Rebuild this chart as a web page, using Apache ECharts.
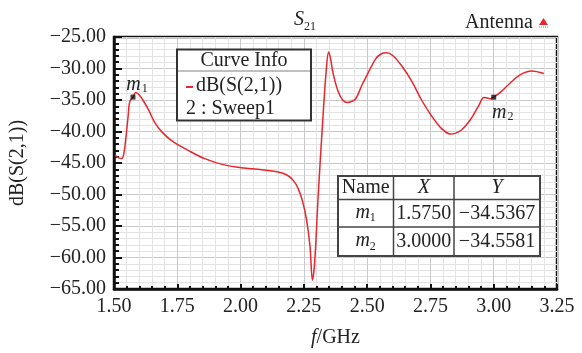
<!DOCTYPE html>
<html><head><meta charset="utf-8">
<script src="https://cdn.jsdelivr.net/npm/echarts@6/dist/echarts.min.js"></script>
<style>html,body{margin:0;padding:0;background:#fff}#c{width:582px;height:353px}</style>
</head><body><div id="c"></div>
<script>
// ---- data ----
const freqs = [1.504,1.515,1.530,1.539,1.547,1.556,1.562,1.575,1.586,1.600,1.614,1.637,1.660,1.690,1.729,1.793,1.858,1.936,2.014,2.092,2.144,2.183,2.209,2.228,2.245,2.261,2.274,2.284,2.293,2.306,2.325,2.338,2.348,2.356,2.364,2.384,2.403,2.423,2.440,2.455,2.481,2.494,2.533,2.555,2.576,2.600,2.637,2.676,2.715,2.754,2.793,2.829,2.871,2.910,2.942,2.961,2.975,2.988,3.000,3.026,3.065,3.104,3.150,3.198];
const s21 = [-43.8,-44.1,-44.3,-43.5,-41.0,-37.5,-35.3,-34.54,-33.8,-34.2,-35.0,-36.6,-38.5,-40.1,-41.5,-43.0,-44.3,-45.3,-45.8,-46.1,-46.4,-46.9,-47.8,-49.1,-51.1,-54.1,-58.1,-63.6,-60.6,-50.6,-38.0,-30.5,-27.4,-28.5,-30.5,-33.5,-35.0,-35.4,-35.2,-34.8,-32.5,-31.5,-28.5,-27.7,-27.5,-27.9,-29.6,-32.0,-35.0,-37.5,-39.5,-40.4,-39.8,-38.0,-35.8,-34.6,-34.7,-34.8,-34.56,-33.8,-32.3,-31.0,-30.4,-30.8];
const markerNames = ['1','2'];
const markerX = [1.5750, 3.0000];
const markerY = [-34.5367, -34.5581];
const xTickValues = [1.50,1.75,2.00,2.25,2.50,2.75,3.00,3.25];
const yTickValues = [-65,-60,-55,-50,-45,-40,-35,-30,-25];

// ---- chart ----
const FONT = '"Liberation Serif","Times New Roman",serif';
const TXT = '#222';
const minus = s => s.replace('-', '\u2212');
const chart = echarts.init(document.getElementById('c'));

const G = {left:108, right:557, top:37, bottom:303};

const tableRows = markerNames.map((n,i)=>({
  name:n, x: markerX[i].toFixed(4), y: minus(markerY[i].toFixed(4))
}));

function txt(x,y,text,extra){
  return Object.assign({type:'text', x:x, y:y, z:100, style:Object.assign({text:text, font:'20px '+FONT, fill:TXT, textAlign:'center', textVerticalAlign:'middle'}, extra||{})});
}

const graphics = [];
// title S21
graphics.push(txt(299,20,'S',{font:'italic 20px '+FONT}));
graphics.push(txt(310,27,'21',{font:'12px '+FONT}));
// Antenna legend
graphics.push(txt(465,23,'Antenna',{textAlign:'left'}));
graphics.push({type:'polygon', z:100, shape:{points:[[543.5,18],[548,25],[539,25]]}, style:{fill:'#e8262d'}});
graphics.push({type:'line', z:100, shape:{x1:539,y1:27,x2:548,y2:27}, style:{stroke:'#c66', lineWidth:1, lineDash:[1,1]}});
// Curve info box
graphics.push({type:'rect', z:99, shape:{x:177,y:49.5,width:134,height:71}, style:{fill:'#fff', stroke:'#333', lineWidth:2}});
graphics.push({type:'line', z:100, shape:{x1:178,y1:71,x2:310,y2:71}, style:{stroke:'#aaa', lineWidth:1.5}});
graphics.push(txt(244,60.5,'Curve Info'));
graphics.push({type:'line', z:100, shape:{x1:186,y1:87,x2:193,y2:87}, style:{stroke:'#e8262d', lineWidth:2}});
graphics.push(txt(196,86,'dB(S(2,1))',{textAlign:'left'}));
graphics.push(txt(186,109,'2 : Sweep1',{textAlign:'left'}));
// marker table
const tx=[338,393.5,454,540], ty=[176,199.5,227,256];
graphics.push({type:'rect', z:99, shape:{x:tx[0],y:ty[0],width:tx[3]-tx[0],height:ty[3]-ty[0]}, style:{fill:'#fff', stroke:'#444', lineWidth:2}});
[1,2].forEach(i=>{
  graphics.push({type:'line', z:100, shape:{x1:tx[i],y1:ty[0],x2:tx[i],y2:ty[3]}, style:{stroke:'#444', lineWidth:1.5}});
  graphics.push({type:'line', z:100, shape:{x1:tx[0],y1:ty[i],x2:tx[3],y2:ty[i]}, style:{stroke:'#444', lineWidth:1.5}});
});
const cx=[(tx[0]+tx[1])/2,(tx[1]+tx[2])/2,(tx[2]+tx[3])/2];
graphics.push(txt(cx[0],188,'Name'));
graphics.push(txt(cx[1],188,'X',{font:'italic 20px '+FONT}));
graphics.push(txt(cx[2],188,'Y',{font:'italic 20px '+FONT}));
tableRows.forEach((r,k)=>{
  const yc = (ty[k+1]+ty[k+2])/2;
  graphics.push(txt(cx[0]-3,yc-1,'m',{font:'italic 20px '+FONT}));
  graphics.push(txt(cx[0]+7,yc+5,r.name,{font:'12px '+FONT}));
  graphics.push(txt(cx[1],yc,r.x));
  graphics.push(txt(cx[2],yc,r.y));
});

const axisCommon = {
  axisLine:{show:true, lineStyle:{color:'#111', width:2.5}},
  axisLabel:{color:TXT, fontFamily:FONT, fontSize:20, margin:8},
  splitLine:{show:true, lineStyle:{color:'#c9c9c9', width:1}},
  minorTick:{show:true, splitNumber:5, length:4, lineStyle:{color:'#111', width:2}},
  minorSplitLine:{show:true, lineStyle:{color:'#e3e3e3', width:1}},
  nameTextStyle:{color:TXT, fontFamily:FONT, fontSize:20}
};

chart.setOption({
  animation:false,
  backgroundColor:'#fff',
  grid:{left:G.left, top:G.top, width:G.right-G.left, height:G.bottom-G.top, show:true, borderColor:'#111', borderWidth:2.5, containLabel:false},
  xAxis:Object.assign({}, axisCommon, {
    type:'value', min:xTickValues[0], max:xTickValues[xTickValues.length-1], interval:0.25,
    axisTick:{show:true, inside:true, length:5, lineStyle:{color:'#111', width:2}},
    minorTick:{show:true, splitNumber:5, length:3, lineStyle:{color:'#111', width:2}},
    axisLabel:Object.assign({}, axisCommon.axisLabel, {formatter:v=>v.toFixed(2)}),
    name:'{i|f}/GHz', nameLocation:'middle', nameGap:39,
    nameTextStyle:{color:TXT, fontFamily:FONT, fontSize:20, rich:{i:{fontStyle:'italic', fontFamily:FONT, fontSize:20, color:TXT}}}
  }),
  yAxis:Object.assign({}, axisCommon, {
    type:'value', min:yTickValues[0], max:yTickValues[yTickValues.length-1], interval:5,
    axisTick:{show:true, inside:true, length:8, lineStyle:{color:'#111', width:2}},
    minorTick:{show:true, splitNumber:5, length:5, lineStyle:{color:'#111', width:2}},
    axisLabel:Object.assign({}, axisCommon.axisLabel, {formatter:v=>minus(v.toFixed(2))}),
    name:'dB(S(2,1))', nameLocation:'middle', nameGap:86
  }),
  series:[
    {type:'line', data:freqs.map((f,i)=>[f,s21[i]]), smooth:0.35, showSymbol:false, symbol:'none',
     lineStyle:{color:'#e8262d', width:1.5}, z:3, silent:true},
    {type:'scatter', data:markerX.map((x,i)=>[x,markerY[i],markerNames[i]]), symbol:'rect', symbolSize:5,
     itemStyle:{color:'#111'}, z:5, silent:true,
     label:{show:true, color:TXT, opacity:1, textBorderWidth:0, formatter:p=>'{m|m}{s|'+p.data[2]+'}',
       position:'top', distance:3,
       rich:{m:{fontStyle:'italic', fontFamily:FONT, fontSize:20, color:TXT, lineHeight:20, verticalAlign:'top'},
             s:{fontFamily:FONT, fontSize:12, color:TXT, lineHeight:20, verticalAlign:'bottom', padding:[8,0,0,1]}}},
     labelLayout:function(p){ return p.dataIndex===1 ? {dx:9, dy:31} : {dx:4, dy:3}; }
    }
  ],
  graphic:graphics
});
</script></body></html>
